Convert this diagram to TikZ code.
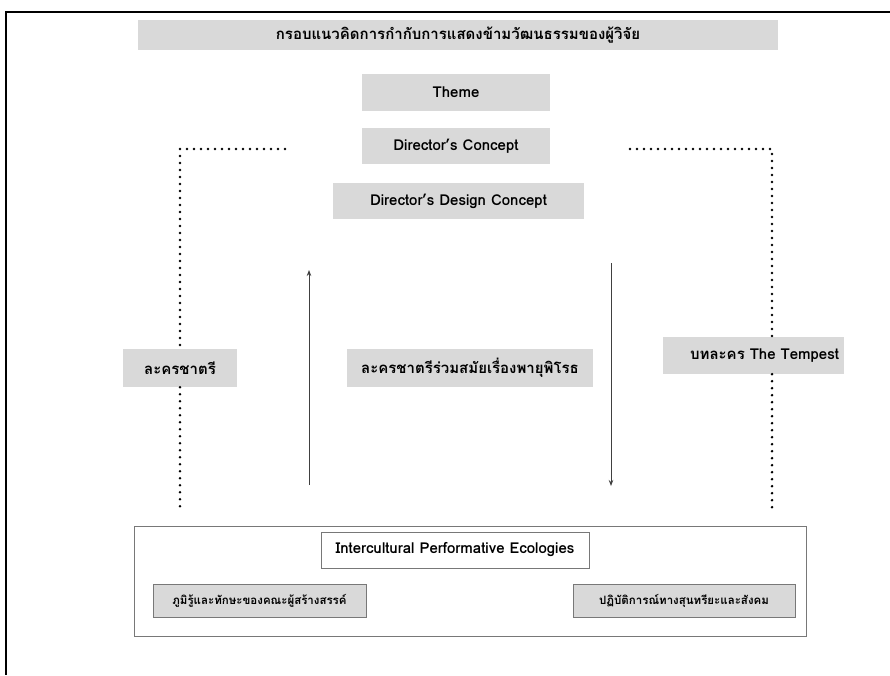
\documentclass[tikz,border=0pt]{standalone}
\usepackage{fontspec}
\setmainfont{Loma}[Script=Thai]
\usepackage{tikz}
\usetikzlibrary{arrows.meta, positioning}
\definecolor{boxgray}{RGB}{217,217,217}
\definecolor{edgegray}{RGB}{120,120,120}

\begin{document}
\begin{tikzpicture}[x=1pt, y=-1pt,
    greybox/.style={fill=boxgray, inner sep=0pt, font=\bfseries\fontsize{15}{17}\selectfont},
    smallbox/.style={greybox, draw=edgegray, line width=0.8pt, font=\bfseries\fontsize{11.5}{13}\selectfont},
    dotline/.style={line width=2.9pt, dash pattern=on 0pt off 7pt, line cap=round},
    flowarrow/.style={line width=0.8pt, black!75, -{Stealth[length=6pt, width=4.5pt]}}]
    \useasboundingbox (0,0) rectangle (890,675);
    % page frame
    \draw[line width=1.5pt] (5,12) -- (890,12);
    \draw[line width=1.5pt] (6,12) -- (6,675);

    % heading and concept stack
    \node[greybox, minimum width=640pt, minimum height=30pt] (title) at (458,35) {กรอบแนวคิดการกำกับการแสดงข้ามวัฒนธรรมของผู้วิจัย};
    \node[greybox, minimum width=188pt, minimum height=37pt] (theme) at (456,92) {Theme};
    \node[greybox, minimum width=188pt, minimum height=36pt] (dconcept) at (456,146) {Director’s Concept};
    \node[greybox, minimum width=251pt, minimum height=36pt] (ddesign) at (458.5,201) {Director’s Design Concept};

    % middle row
    \node[greybox, minimum width=114pt, minimum height=38pt] (chatri) at (180,368) {ละครชาตรี};
    \node[greybox, minimum width=246pt, minimum height=38pt] (pirot) at (470,368) {ละครชาตรีร่วมสมัยเรื่องพายุพิโรธ};
    \node[greybox, text width=171pt, align=right, inner xsep=5pt, minimum height=37pt] (tempest) at (753.5,355.5) {บทละคร The Tempest};

    % ecologies
    \node[draw=edgegray, line width=1pt, minimum width=672pt, minimum height=110pt] (ecobox) at (470,581) {};
    \node[draw=edgegray, line width=0.8pt, fill=white, minimum width=268pt, minimum height=36pt, font=\bfseries\fontsize{15}{17}\selectfont] (intercult) at (455,550) {Intercultural Performative Ecologies};
    \node[smallbox, minimum width=213pt, minimum height=33pt] (poomru) at (259.5,600.5) {ภูมิรู้และทักษะของคณะผู้สร้างสรรค์};
    \node[smallbox, minimum width=222pt, minimum height=33pt] (patibat) at (684,600.5) {ปฏิบัติการณ์ทางสุนทรียะและสังคม};

    % dotted brackets
    \coordinate (lend) at (285,149);
    \coordinate (ltop) at (180,149);
    \coordinate (lbot) at (180,508);
    \coordinate (rend) at (630,149);
    \coordinate (rtop) at (772,149);
    \coordinate (rbot) at (772,513);
    \draw[dotline] (lend) -- (ltop) -- (chatri.north);
    \draw[dotline] (chatri.south) -- (lbot);
    \draw[dotline] (rend) -- (rtop) -- (tempest.north -| rtop);
    \draw[dotline] (tempest.south -| rtop) -- (rbot);

    % arrows
    \coordinate (upfrom) at (309,485);
    \coordinate (upto) at (309,270);
    \coordinate (downfrom) at (611,263);
    \coordinate (downto) at (611,486);
    \draw[flowarrow] (upfrom) -- (upto);
    \draw[flowarrow] (downfrom) -- (downto);
\end{tikzpicture}
\end{document}
